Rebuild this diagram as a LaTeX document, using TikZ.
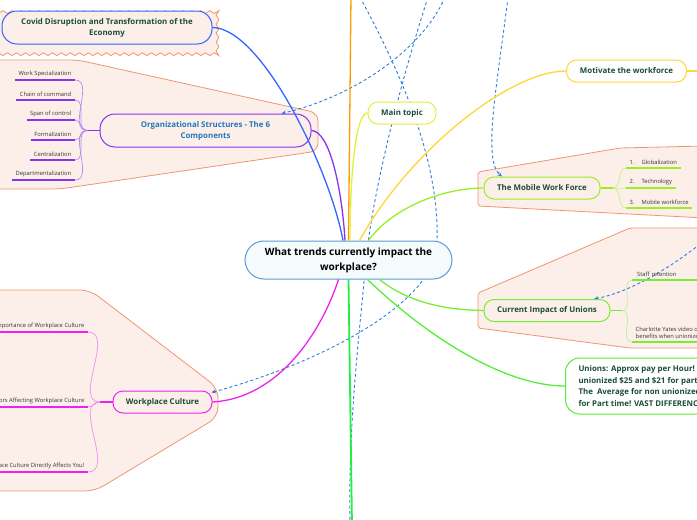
\documentclass[tikz,border=0pt]{standalone}
\usepackage{fontspec}
\setmainfont{Open Sans}
\usetikzlibrary{arrows.meta,calc,decorations.pathmorphing}
\definecolor{regfill}{HTML}{FCEFEA}
\definecolor{regline}{HTML}{EE9572}
\definecolor{covidblue}{HTML}{3366FF}
\definecolor{orgpurple}{HTML}{8833EE}
\definecolor{orglight}{HTML}{B48CF2}
\definecolor{orgtext}{HTML}{2277BB}
\definecolor{mainyellow}{HTML}{E2F03A}
\definecolor{orangeline}{HTML}{FF9900}
\definecolor{gold}{HTML}{FFD633}
\definecolor{lime}{HTML}{9CEE22}
\definecolor{limelight}{HTML}{C6F37E}
\definecolor{unigreen}{HTML}{77EE33}
\definecolor{unilight}{HTML}{B4F590}
\definecolor{paygreen}{HTML}{55EE33}
\definecolor{wcmag}{HTML}{EE22EE}
\definecolor{wclight}{HTML}{F38AF3}
\definecolor{vgreen}{HTML}{22EE44}
\definecolor{relblue}{HTML}{2B7DE0}
\definecolor{dkgreen}{HTML}{1A4D3A}
\definecolor{itemtext}{HTML}{333333}
\definecolor{cborder}{HTML}{5B9BD5}
\definecolor{cfill}{HTML}{F5FAFD}
\pgfdeclarelayer{regionlayer}
\pgfdeclarelayer{rellayer}
\pgfsetlayers{regionlayer,rellayer,main}
\begin{document}
\begin{tikzpicture}[x=1pt,y=-1pt,
  region/.style={draw=regline, fill=regfill, line width=0.8pt, rounded corners=8pt},
  topic/.style={line width=1pt, inner sep=0pt, align=center,
    font=\fontsize{7.9}{11}\selectfont\bfseries, text=dkgreen},
  item/.style={font=\fontsize{5.8}{7}\selectfont, text=itemtext, inner xsep=3.5pt, inner ysep=3pt},
  rel/.style={draw=relblue, dash pattern=on 3pt off 2.5pt, line width=0.9pt},
  relarrow/.style={rel, -{Stealth[length=4.5pt,width=4pt]}},
  link/.style={line width=1.3pt},
  twig/.style={line width=0.7pt}
]
\useasboundingbox (0,0) rectangle (697,520);

% ---------- regions ----------
\begin{pgfonlayer}{regionlayer}
\draw[draw=regline, fill=regfill, line width=0.8pt, decorate,
  decoration={snake, amplitude=1.4pt, segment length=9pt}] (-12,5) rectangle (219,49);
\draw[region] (-10,60) -- (78,60) -- (318,113) -- (318,151) -- (60,189) -- (-10,189) -- cycle;
\draw[region, rounded corners=10pt] (-10,290) -- (90,290) -- (218,388) -- (218,417) -- (95,491) -- (-10,491) -- cycle;
\draw[region, rounded corners=2pt] (478,172) -- (620,148) -- (705,146) -- (705,218) -- (478,206) -- cycle;
\draw[region, rounded corners=2pt] (478,293) -- (630,228) -- (705,228) -- (705,348) -- (630,348) -- (478,328) -- cycle;
\end{pgfonlayer}

% ---------- nodes ----------
\node[draw=cborder, fill=cfill, line width=1pt, rounded corners=19pt, minimum width=207pt,
  minimum height=38pt, inner sep=0pt, align=center,
  font=\fontsize{10}{15}\selectfont\bfseries] (c) at (348.5,260) {What trends currently impact the\\workplace?};

\node[topic, draw=covidblue, fill=regfill, rounded corners=15pt, minimum width=210pt, minimum height=33pt]
  (covid) at (107,27.5) {Covid Disruption and Transformation of the\\Economy};
\node[topic, draw=orgpurple, fill=regfill, rounded corners=15pt, minimum width=211pt, minimum height=33pt, text=orgtext]
  (org) at (205.5,130.5) {Organizational Structures - The 6\\Components};
\node[topic, draw=wcmag, fill=regfill, rounded corners=10pt, minimum width=99pt, minimum height=22pt]
  (wc) at (162.5,402) {Workplace Culture};
\node[topic, draw=mainyellow, fill=white, rounded corners=10pt, minimum width=68pt, minimum height=22pt]
  (main) at (402,113) {Main topic};
\node[topic, draw=gold, fill=white, rounded corners=10pt, minimum width=120pt, minimum height=22pt]
  (mot) at (626.5,71) {Motivate the workforce};
\node[topic, draw=lime, fill=regfill, rounded corners=10pt, minimum width=116pt, minimum height=22pt]
  (mob) at (542,188) {The Mobile Work Force};
\node[topic, draw=unigreen, fill=regfill, rounded corners=10pt, minimum width=126pt, minimum height=22pt]
  (uni) at (547,310.5) {Current Impact of Unions};
\node[topic, draw=paygreen, fill=white, rounded corners=14pt, minimum height=56pt, anchor=west,
  align=left, inner xsep=13pt, font=\fontsize{7.9}{11.4}\selectfont\bfseries]
  (pay) at (565,386) {Unions: Approx pay per Hour!\\unionized \$25 and \$21 for part time.\\The\ \ Average for non unionized\\for Part time! VAST DIFFERENCE};

\coordinate (motend) at (700,71);
\coordinate (orangetop) at (351,-5);
\coordinate (greenbot) at (352,525);

% ---------- main connectors ----------
\draw[link, covidblue] (covid.east) .. controls (262,28) and (330,170) .. ($(c.north)+(-5.5,0)$);
\draw[link, orgpurple] (org.east) .. controls (330,131) and (342,190) .. ($(c.north)+(-3.5,0)$);
\draw[link, orangeline] (orangetop) -- ($(c.north)+(0,0)$);
\draw[link, mainyellow] (main.west) .. controls (355,113) and (350,180) .. ($(c.north)+(1.5,0)$);
\draw[link, gold] (mot.west) .. controls (510,71) and (410,150) .. ($(c.north)+(11,0)$);
\draw[link, gold] (mot.east) -- (motend);
\draw[link, lime] (mob.west) .. controls (440,188) and (390,210) .. ($(c.north)+(20,0)$);
\draw[link, wcmag] (wc.east) .. controls (280,398) and (322,330) .. ($(c.south)+(-10,0)$);
\draw[link, vgreen, line width=1.8pt] ($(c.south)+(0,0)$) -- (greenbot);
\draw[link, unigreen] (uni.west) .. controls (440,310) and (405,300) .. ($(c.south)+(31,0)$);
\draw[link, paygreen] (pay.west) .. controls (500,386) and (420,330) .. ($(c.south)+(19,0)$);

% ---------- Organizational structure items ----------
\coordinate (oj) at (87,130.5);
\draw[link, orgpurple] (oj) -- (org.west);
\foreach \n/\y/\t in {1/80/Work Specialization, 2/100/Chain of command, 3/120/Span of control,
  4/140/Formalization, 5/160/Centralization, 6/180/Departmentalization}{
  \node[item, anchor=south east] (o\n) at (75,\y) {\t};
  \draw[orgpurple, line width=1.2pt] (o\n.south west) -- (o\n.south east);
  \draw[twig, orglight] (oj) to[out=180,in=0] (o\n.south east);
}

% ---------- Workplace culture items ----------
\coordinate (wj) at (100,402);
\draw[link, wcmag] (wj) -- (wc.west);
\foreach \n/\y/\t in {1/332/Importance of Workplace Culture, 2/407/Factors Affecting Workplace Culture,
  3/472/How Workplace Culture Directly Affects You!}{
  \node[item, anchor=south east] (w\n) at (88,\y) {\t};
  \draw[wcmag, line width=1.2pt] (w\n.south west) -- (w\n.south east);
  \draw[twig, wclight] (wj) to[out=180,in=0] (w\n.south east);
}

% ---------- Mobile work force items ----------
\coordinate (mj) at (613,188);
\draw[link, lime] (mob.east) -- (mj);
\node[item, anchor=south west] (m1) at (626,168) {1.\hspace{7pt}Globalization};
\node[item, anchor=south west] (m2) at (626,188) {2.\hspace{7pt}Technology};
\node[item, anchor=south west] (m3) at (626,208) {3.\hspace{7pt}Mobile workforce};
\foreach \n in {1,2,3}{
  \draw[lime, line width=1.2pt] (m\n.south west) -- (m\n.south east);
  \draw[twig, limelight] (mj) to[out=0,in=180] (m\n.south west);
}

% ---------- Unions items ----------
\coordinate (uj) at (622,310.5);
\draw[link, unigreen] (uni.east) -- (uj);
\node[item, anchor=south west, minimum width=120pt, align=left, text width=110pt] (u1) at (632,280) {Staff retention};
\node[item, anchor=south west, align=left, font=\fontsize{5.8}{7.6}\selectfont] (u2) at (632,342) {Charlotte Yates video on\\benefits when unionized};
\draw[unigreen, line width=1.2pt] (u1.south west) -- (u1.south east);
\draw[unigreen, line width=1.2pt] (u2.south west) -- (u2.south east);
\draw[twig, unilight] (uj) to[out=0,in=180] (u1.south west);
\draw[twig, unilight] (uj) to[out=0,in=180] (u2.south west);

% ---------- relationship lines (dashed) ----------
\begin{pgfonlayer}{rellayer}
\coordinate (ra) at (445,-3);
\coordinate (rb) at (508,-3);
\coordinate (rc) at (360,-3);
\coordinate (rd) at (428,-3);
\coordinate (rdend) at (350,525);
\coordinate (re) at (700,244);
\draw[relarrow] (ra) .. controls (425,45) and (360,95) .. ($(org.north)+(76,0)$);
\draw[relarrow] (rb) .. controls (498,80) and (482,160) .. ($(mob.north)+(-40,0)$);
\draw[relarrow] (rc) .. controls (410,90) and (440,170) .. (437,245)
   .. controls (435,300) and (330,360) .. ($(wc.north east)+(-1,2)$);
\draw[rel] (rd) .. controls (395,100) and (372,200) .. (366,260)
   .. controls (360,330) and (348,420) .. (rdend);
\draw[relarrow] (re) .. controls (670,268) and (630,292) .. ($(uni.north)+(47,0)$);
\end{pgfonlayer}
\end{tikzpicture}
\end{document}
